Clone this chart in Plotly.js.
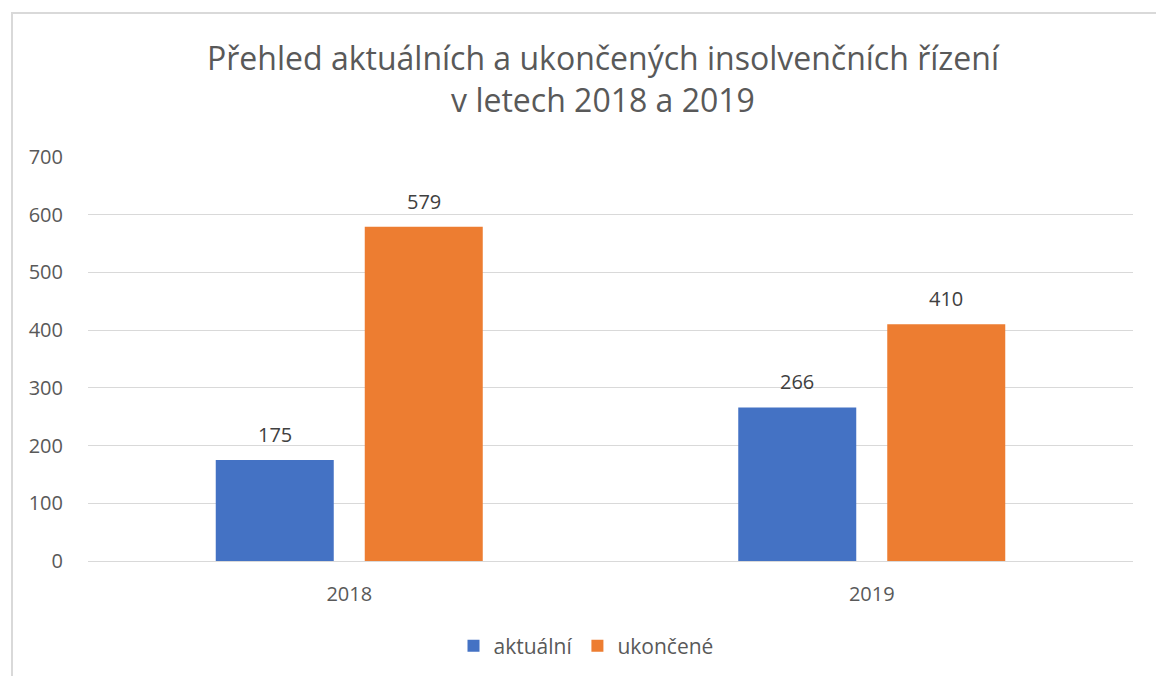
<!DOCTYPE html>
<html>
<head>
<meta charset="utf-8">
<script src="https://cdn.plot.ly/plotly-3.0.1.min.js"></script>
<style>
  html, body { margin: 0; padding: 0; background: #fff; }
  #frame { position: absolute; left: 11px; top: 12px; width: 1160px; height: 680px;
           border-left: 2px solid #d9d9d9; border-top: 2px solid #d9d9d9; box-sizing: border-box; }
  #chart { position: absolute; left: 0; top: 0; width: 1156px; height: 676px; }
</style>
</head>
<body>
<div id="frame"></div>
<div id="chart"></div>
<script>
const categories = ["2018", "2019"];
const aktualni = [175, 266];
const ukoncene = [579, 410];
const seriesNames = ["aktuální", "ukončené"];
const yTicks = [0, 100, 200, 300, 400, 500, 600, 700];

const FONT = "'Open Sans', sans-serif";
const W = 1156, H = 676;
const M = { l: 88, r: 23, t: 157, b: 115 };
const BARGAP = 0.4297, BARGROUPGAP = 0.208;

const traces = [
  { type: "bar", name: seriesNames[0], x: categories, y: aktualni,
    marker: { color: "#4472C4" }, hoverinfo: "skip" },
  { type: "bar", name: seriesNames[1], x: categories, y: ukoncene,
    marker: { color: "#ED7D31" }, hoverinfo: "skip" }
];

// data labels placed above each bar via the axes' scales (category index on x)
const catPx = (W - M.l - M.r) / categories.length;
const slotPx = (1 - BARGAP) * catPx / traces.length;
const annotations = [];
traces.forEach((t, ti) => {
  const shift = (ti - (traces.length - 1) / 2) * slotPx;
  t.y.forEach((v, i) => {
    annotations.push({ x: i, y: v, xref: "x", yref: "y", text: String(v),
      showarrow: false, xshift: shift, yanchor: "bottom", yshift: 10,
      font: { family: FONT, size: 20, color: "#404040" } });
  });
});

const layout = {
  width: W, height: H,
  paper_bgcolor: "rgba(0,0,0,0)", plot_bgcolor: "rgba(0,0,0,0)",
  margin: M,
  font: { family: FONT, color: "#595959", size: 20 },
  title: { text: "Přehled aktuálních a ukončených insolvenčních řízení<br>v letech 2018 a 2019",
           font: { family: FONT, size: 32, color: "#595959" },
           x: 603 / W, xanchor: "center", xref: "container",
           y: 1 - 70 / H, yanchor: "top", yref: "container" },
  barmode: "group", bargap: BARGAP, bargroupgap: BARGROUPGAP,
  xaxis: { type: "category", range: [-0.5, categories.length - 0.5],
           categoryorder: "array", categoryarray: categories,
           showgrid: false, showline: true, linecolor: "#d9d9d9", linewidth: 1,
           ticks: "", ticklabelstandoff: 15, tickfont: { size: 20, color: "#595959" }, zeroline: false },
  yaxis: { range: [0, 700], tickvals: yTicks, ticktext: yTicks.map(String),
           showgrid: true, gridcolor: "#d9d9d9", gridwidth: 1, zeroline: false,
           showline: false, ticks: "", ticklabelstandoff: 24,
           tickfont: { size: 20, color: "#595959" } },
  annotations: annotations,
  showlegend: true,
  legend: { orientation: "h", x: 0.5 + 8 / W, xanchor: "center", xref: "container",
            y: 1 - 646 / H, yanchor: "middle", yref: "container",
            font: { size: 21, color: "#595959" },
            itemwidth: 30, traceorder: "normal" }
};

Plotly.newPlot("chart", traces, layout, { displayModeBar: false, staticPlot: true });
</script>
</body>
</html>
